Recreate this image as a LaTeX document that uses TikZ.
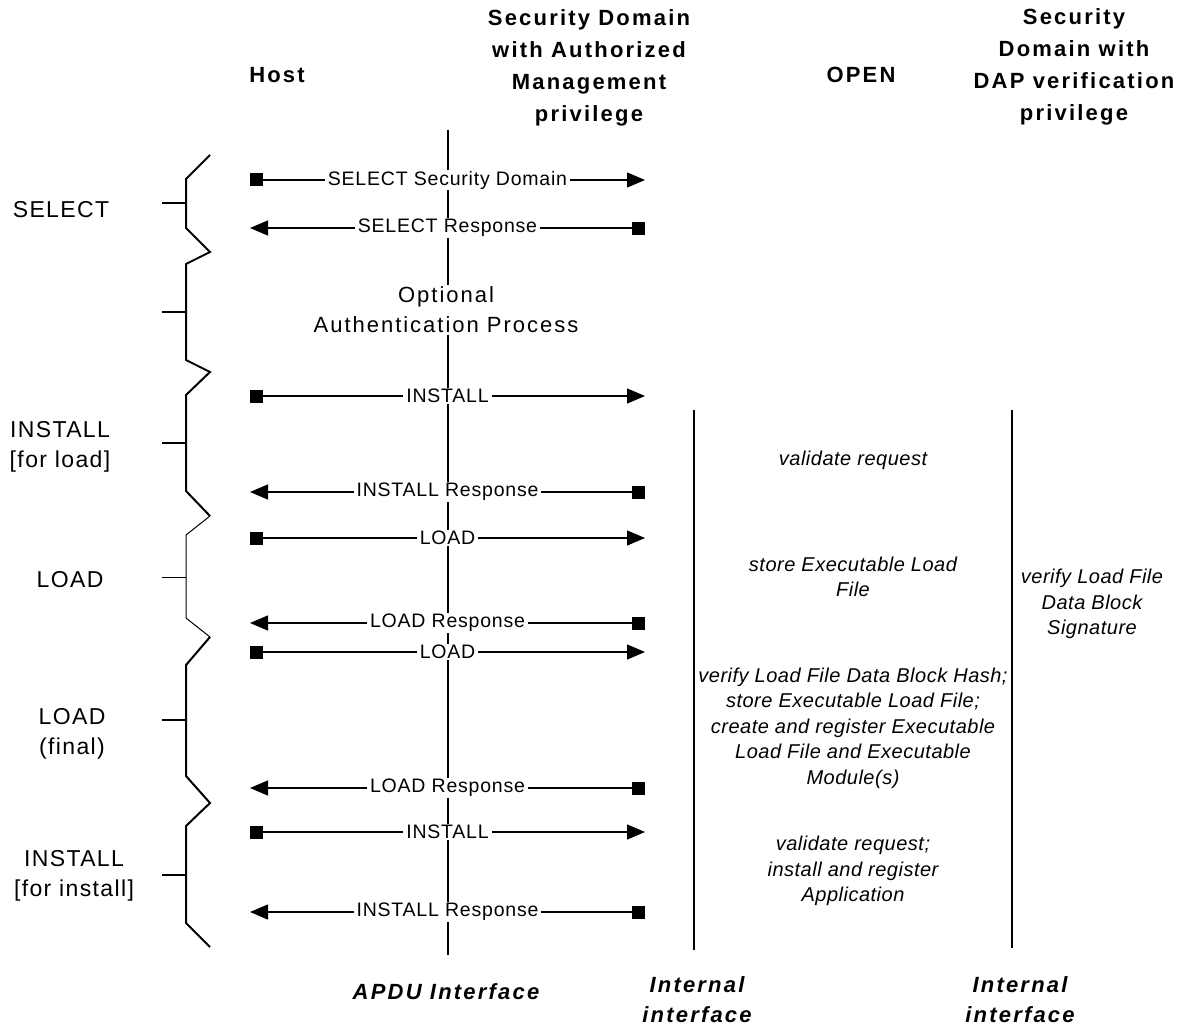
\documentclass[tikz,border=0pt]{standalone}
\usepackage{fontspec}
\setmainfont{Liberation Sans}
\usetikzlibrary{arrows.meta}
\begin{document}
\begin{tikzpicture}[x=1pt,y=-1pt,
  hdr/.style={align=center,inner sep=0pt,font={\fontsize{22}{32}\selectfont\bfseries\addfontfeatures{LetterSpace=10}}},
  btm/.style={align=center,inner sep=0pt,font={\fontsize{22}{30}\selectfont\bfseries\itshape\addfontfeatures{LetterSpace=10}}},
  phase/.style={align=center,inner sep=0pt,font={\fontsize{23}{30}\selectfont\addfontfeatures{LetterSpace=6}}},
  body/.style={align=center,inner sep=0pt,font={\fontsize{20}{25.5}\selectfont\itshape\addfontfeatures{LetterSpace=2.5}}},
  opt/.style={align=center,fill=white,inner sep=2pt,font={\fontsize{22}{30}\selectfont\addfontfeatures{LetterSpace=9}}},
  msglbl/.style={fill=white,inner xsep=3pt,inner ysep=1pt,font={\fontsize{19.5}{22}\selectfont\addfontfeatures{LetterSpace=4}}},
  msgR/.style={line width=1.3pt,{Square[length=13pt,width=13pt]}-{Triangle[length=18pt,width=15pt]}},
  msgL/.style={line width=1.3pt,{Triangle[length=18pt,width=15pt]}-{Square[length=13pt,width=13pt]}},
  brace/.style={line width=2pt,line join=miter},
  bracethin/.style={line width=1pt,line join=miter},
  lifeline/.style={line width=1.5pt},
  iface/.style={line width=1.2pt}
]
\useasboundingbox[fill=white] (0,0) rectangle (1184,1030);

% headers
\node[hdr] (host) at (277,75) {Host};
\node[hdr] (sdam) at (589,68) {Security Domain\\with Authorized\\Management\\privilege};
\node[hdr] (open) at (861,75) {OPEN};
\node[hdr] (sddap) at (1074,67) {Security\\Domain with\\DAP verification\\privilege};

% lifelines
\coordinate (apduTop) at (448,130);
\coordinate (apduBot) at (448,955);
\draw[lifeline] (apduTop) -- (apduBot);
\coordinate (int1Top) at (694,410);
\coordinate (int1Bot) at (694,950);
\draw[iface] (int1Top) -- (int1Bot);
\coordinate (int2Top) at (1012,410);
\coordinate (int2Bot) at (1012,948);
\draw[iface] (int2Top) -- (int2Bot);

% messages
\foreach \n/\y in {1/180,2/228,3/396,4/492,5/538,6/623,7/652,8/788,9/832,10/912}{
  \coordinate (h\n) at (250,\y);
  \coordinate (s\n) at (645,\y);
}
\draw[msgR] (h1) -- node[msglbl]{SELECT Security Domain} (s1);
\draw[msgL] (h2) -- node[msglbl]{SELECT Response} (s2);
\draw[msgR] (h3) -- node[msglbl]{INSTALL} (s3);
\draw[msgL] (h4) -- node[msglbl]{INSTALL Response} (s4);
\draw[msgR] (h5) -- node[msglbl]{LOAD} (s5);
\draw[msgL] (h6) -- node[msglbl]{LOAD Response} (s6);
\draw[msgR] (h7) -- node[msglbl]{LOAD} (s7);
\draw[msgL] (h8) -- node[msglbl]{LOAD Response} (s8);
\draw[msgR] (h9) -- node[msglbl]{INSTALL} (s9);
\draw[msgL] (h10) -- node[msglbl]{INSTALL Response} (s10);

\node[opt] (auth) at (446,310) {Optional\\Authentication Process};

% card-side processing
\node[body] (v1) at (853,460) {validate request};
\node[body] (v2) at (853,577) {store Executable Load\\File};
\node[body] (v3) at (853,728) {verify Load File Data Block Hash;\\store Executable Load File;\\create and register Executable\\Load File and Executable\\Module(s)};
\node[body] (v4) at (853,871) {validate request;\\install and register\\Application};
\node[body] (v5) at (1092,604) {verify Load File\\Data Block\\Signature};

% bottom labels
\node[btm] (apdu) at (446,992) {APDU Interface};
\node[btm] (int1) at (697,1000) {Internal\\interface};
\node[btm] (int2) at (1020,1000) {Internal\\interface};

% phase braces
\draw[brace] (210,155) -- (186,179) -- (186,228) -- (210,252) -- (186,264) -- (186,360) -- (210,372) -- (186,395) -- (186,491) -- (210,516);
\draw[bracethin] (210,516) -- (186,535) -- (186,618) -- (210,637);
\draw[brace] (210,637) -- (186,665) -- (186,776) -- (210,803) -- (186,826) -- (186,923) -- (210,947);
\foreach \y in {203,312,443,720,875}{\draw[brace] (162,\y) -- (186,\y);}
\draw[bracethin] (162,577) -- (186,577);

% phase labels
\node[phase] (pSel) at (61,210) {SELECT};
\node[phase] (pIns) at (60,447) {INSTALL\\{[for load]}};
\node[phase] (pLoad) at (70,580) {LOAD};
\node[phase] (pLoadF) at (72,734) {LOAD\\(final)};
\node[phase] (pInst) at (74,876) {INSTALL\\{[for install]}};
\end{tikzpicture}
\end{document}
